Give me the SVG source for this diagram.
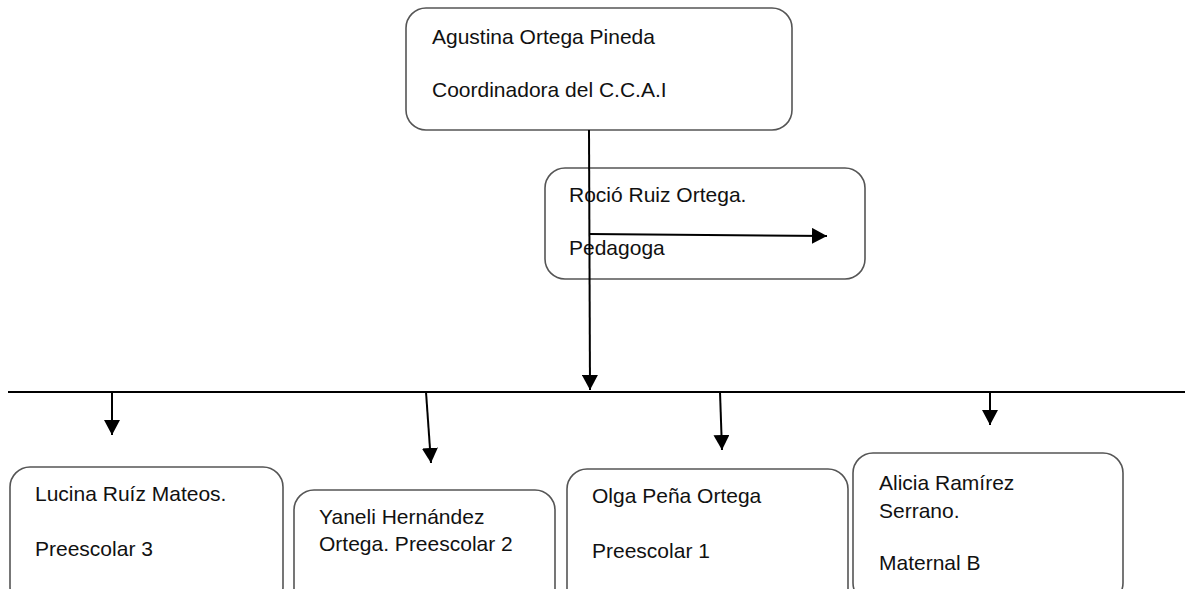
<svg xmlns="http://www.w3.org/2000/svg" width="1185" height="589" viewBox="0 0 1185 589">
<style>
.box{fill:#fff;stroke:#555;stroke-width:1.6}
.t{font-family:"Liberation Sans",Arial,sans-serif;font-size:21px;fill:#111}
.c{stroke:#000;stroke-width:2;fill:none}
</style>
<defs>
<marker id="ah" markerUnits="userSpaceOnUse" markerWidth="16" markerHeight="16" refX="15" refY="8" orient="auto">
<path d="M0,0 L15,8 L0,16 z" fill="#000"/>
</marker>
</defs>
<rect width="1185" height="589" fill="#fff"/>
<g id="n-coordinadora">
<rect class="box" x="406" y="8" width="386" height="122" rx="20"/>
<text class="t" x="432" y="44">Agustina Ortega Pineda</text>
<text class="t" x="432" y="97">Coordinadora del C.C.A.I</text>
</g>
<g id="n-pedagoga">
<rect class="box" x="545" y="168" width="320" height="111" rx="20"/>
<text class="t" x="569" y="202">Roció Ruiz Ortega.</text>
<text class="t" x="569" y="255">Pedagoga</text>
</g>
<g id="n-preescolar3">
<rect class="box" x="10" y="467" width="273" height="140" rx="20"/>
<text class="t" x="35" y="501">Lucina Ruíz Mateos.</text>
<text class="t" x="35" y="556">Preescolar 3</text>
</g>
<g id="n-preescolar2">
<rect class="box" x="294" y="490" width="261" height="120" rx="20"/>
<text class="t" x="319" y="524">Yaneli Hernández</text>
<text class="t" x="319" y="551">Ortega. Preescolar 2</text>
</g>
<g id="n-preescolar1">
<rect class="box" x="567" y="469" width="281" height="140" rx="20"/>
<text class="t" x="592" y="503">Olga Peña Ortega</text>
<text class="t" x="592" y="558">Preescolar 1</text>
</g>
<g id="n-maternalb">
<rect class="box" x="853" y="453" width="270" height="150" rx="20"/>
<text class="t" x="879" y="490">Alicia Ramírez</text>
<text class="t" x="879" y="518">Serrano.</text>
<text class="t" x="879" y="570">Maternal B</text>
</g>
<g id="connectors">
<line class="c" x1="8" y1="392" x2="1185" y2="392"/>
<line class="c" x1="589" y1="130" x2="590" y2="390" marker-end="url(#ah)"/>
<line class="c" x1="589" y1="234" x2="827" y2="236" marker-end="url(#ah)"/>
<line class="c" x1="112" y1="392" x2="112" y2="435" marker-end="url(#ah)"/>
<line class="c" x1="426" y1="392" x2="431" y2="463" marker-end="url(#ah)"/>
<line class="c" x1="720" y1="392" x2="722" y2="450" marker-end="url(#ah)"/>
<line class="c" x1="990" y1="392" x2="990" y2="425" marker-end="url(#ah)"/>
</g>
</svg>
